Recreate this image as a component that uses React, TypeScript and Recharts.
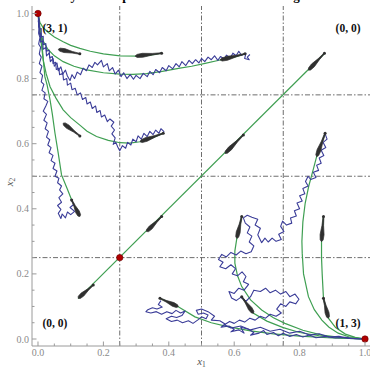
import { ComposedChart, Line, XAxis, YAxis, ReferenceLine, Scatter } from "recharts"

type Pt = { x: number; y: number }
const pts = (a: number[][]): Pt[] => a.map(([x, y]) => ({ x, y }))

// frame ticks (every 0.05) and the labelled ones
const frameTicks = [0, 0.05, 0.1, 0.15, 0.2, 0.25, 0.3, 0.35, 0.4, 0.45, 0.5, 0.55, 0.6, 0.65, 0.7, 0.75, 0.8, 0.85, 0.9, 0.95, 1]
const labelTicks = [0, 0.2, 0.4, 0.6, 0.8, 1]
const gridAt = [0.25, 0.5, 0.75]

// rest points
const eqX = [0, 0.25, 1]
const eqY = [1, 0.25, 0]

// payoff labels
const cornerText = ["(3, 1)", "(0, 0)", "(0, 0)", "(1, 3)"]
const cornerX = [0.052, 0.948, 0.052, 0.948]
const cornerY = [0.956, 0.956, 0.048, 0.048]

// deterministic trajectories
const curveA = [[0.378, 0.878], [0.34, 0.871], [0.312, 0.869], [0.251, 0.87], [0.2, 0.876], [0.16, 0.884], [0.128, 0.893], [0.1, 0.902], [0.077, 0.913], [0.05, 0.928], [0.03, 0.943], [0.016, 0.956], [0.006, 0.972], [0, 1]]
const curveB = [[0.633, 0.876], [0.6, 0.866], [0.557, 0.857], [0.511, 0.847], [0.47, 0.838], [0.434, 0.832], [0.38, 0.822], [0.332, 0.815], [0.29, 0.813], [0.251, 0.814], [0.2, 0.818], [0.149, 0.827], [0.11, 0.838], [0.077, 0.852], [0.05, 0.87], [0.03, 0.89], [0.016, 0.915], [0.006, 0.945], [0, 1]]
const curveC = [[0.383, 0.632], [0.35, 0.618], [0.312, 0.606], [0.28, 0.602], [0.251, 0.603], [0.215, 0.61], [0.179, 0.622], [0.15, 0.638], [0.128, 0.657], [0.1, 0.68], [0.077, 0.704], [0.055, 0.74], [0.037, 0.775], [0.025, 0.815], [0.016, 0.857], [0.011, 0.9], [0.006, 0.94], [0, 1]]
const curveD = [[0.103, 0.427], [0.09, 0.46], [0.072, 0.504], [0.062, 0.57], [0.052, 0.632], [0.044, 0.69], [0.037, 0.734], [0.028, 0.78], [0.021, 0.806], [0.016, 0.86], [0.011, 0.92], [0, 1]]
const curveDiag = [[0.123, 0.124], [0.876, 0.877]]
const curveF = [[0.373, 0.125], [0.429, 0.099], [0.48, 0.068], [0.53, 0.05], [0.58, 0.038], [0.65, 0.025], [0.72, 0.016], [0.8, 0.009], [0.9, 0.003], [1, 0]]
const curveG = [[0.878, 0.632], [0.852, 0.56], [0.842, 0.522], [0.828, 0.47], [0.817, 0.417], [0.81, 0.36], [0.807, 0.3], [0.808, 0.263], [0.812, 0.2], [0.827, 0.13], [0.845, 0.09], [0.868, 0.058], [0.89, 0.036], [0.918, 0.018], [0.95, 0.007], [1, 0]]
const curveH = [[0.623, 0.376], [0.608, 0.309], [0.602, 0.27], [0.602, 0.233], [0.61, 0.195], [0.623, 0.161], [0.65, 0.12], [0.684, 0.089], [0.72, 0.065], [0.755, 0.048], [0.81, 0.027], [0.868, 0.012], [0.93, 0.004], [1, 0]]
const curveI = [[0.623, 0.13], [0.659, 0.079], [0.7, 0.055], [0.75, 0.035], [0.8, 0.02], [0.86, 0.01], [0.93, 0.003], [1, 0]]
const curveJ = [[0.873, 0.376], [0.867, 0.299], [0.867, 0.25], [0.869, 0.2], [0.873, 0.125], [0.888, 0.064], [0.91, 0.035], [0.94, 0.015], [0.97, 0.005], [1, 0]]
const curves = [curveA, curveB, curveC, curveD, curveDiag, curveF, curveG, curveH, curveI, curveJ]

// arrows: [thin end, thick end]
const arrows = [
  [[0.169, 0.166], [0.123, 0.125]],
  [[0.378, 0.376], [0.332, 0.33]],
  [[0.628, 0.627], [0.572, 0.57]],
  [[0.876, 0.878], [0.827, 0.826]],
  [[0.128, 0.876], [0.062, 0.89]],
  [[0.378, 0.878], [0.297, 0.869]],
  [[0.633, 0.876], [0.557, 0.857]],
  [[0.128, 0.624], [0.077, 0.663]],
  [[0.383, 0.632], [0.312, 0.606]],
  [[0.103, 0.427], [0.128, 0.376]],
  [[0.373, 0.125], [0.429, 0.099]],
  [[0.878, 0.632], [0.852, 0.56]],
  [[0.623, 0.376], [0.608, 0.309]],
  [[0.623, 0.13], [0.659, 0.079]],
  [[0.873, 0.376], [0.867, 0.299]],
  [[0.873, 0.125], [0.888, 0.064]],
]

// simulated sample paths
const path1 = [[0.648, 0.874], [0.64, 0.866], [0.646, 0.858], [0.632, 0.862], [0.636, 0.878], [0.622, 0.872], [0.614, 0.884], [0.606, 0.87], [0.596, 0.878], [0.588, 0.864], [0.576, 0.872], [0.57, 0.86], [0.558, 0.868], [0.55, 0.856], [0.54, 0.87], [0.53, 0.858], [0.52, 0.866], [0.51, 0.852], [0.5, 0.862], [0.492, 0.848], [0.482, 0.858], [0.472, 0.846], [0.462, 0.856], [0.452, 0.84], [0.44, 0.852], [0.432, 0.836], [0.422, 0.846], [0.412, 0.83], [0.4, 0.84], [0.392, 0.824], [0.38, 0.834], [0.372, 0.818], [0.36, 0.828], [0.352, 0.812], [0.342, 0.822], [0.334, 0.806], [0.322, 0.816], [0.312, 0.8], [0.3, 0.81], [0.292, 0.798], [0.282, 0.812], [0.272, 0.8], [0.262, 0.818], [0.254, 0.806], [0.246, 0.826], [0.236, 0.814], [0.228, 0.834], [0.218, 0.824], [0.212, 0.846], [0.2, 0.836], [0.194, 0.856], [0.182, 0.842], [0.174, 0.85], [0.166, 0.834], [0.156, 0.842], [0.148, 0.824], [0.138, 0.832], [0.13, 0.812], [0.12, 0.82], [0.112, 0.8], [0.104, 0.812], [0.098, 0.794], [0.09, 0.808], [0.084, 0.826], [0.076, 0.814], [0.07, 0.836], [0.062, 0.824], [0.058, 0.848], [0.05, 0.838], [0.046, 0.862], [0.038, 0.852], [0.034, 0.878], [0.026, 0.87], [0.024, 0.896], [0.016, 0.89], [0.014, 0.916], [0.008, 0.912], [0.008, 0.94], [0.004, 0.936], [0.004, 0.962], [0.002, 0.958], [0.002, 0.985], [0, 1]]
const path2 = [[0.386, 0.636], [0.376, 0.646], [0.37, 0.632], [0.36, 0.642], [0.352, 0.628], [0.342, 0.638], [0.334, 0.622], [0.324, 0.632], [0.316, 0.614], [0.306, 0.624], [0.3, 0.606], [0.29, 0.614], [0.284, 0.596], [0.274, 0.604], [0.268, 0.586], [0.258, 0.594], [0.25, 0.578], [0.244, 0.59], [0.238, 0.604], [0.23, 0.598], [0.236, 0.618], [0.226, 0.63], [0.234, 0.642], [0.224, 0.654], [0.232, 0.666], [0.22, 0.676], [0.212, 0.668], [0.204, 0.688], [0.194, 0.682], [0.19, 0.702], [0.18, 0.696], [0.176, 0.716], [0.166, 0.708], [0.16, 0.728], [0.15, 0.722], [0.146, 0.742], [0.136, 0.736], [0.13, 0.756], [0.12, 0.75], [0.114, 0.77], [0.104, 0.766], [0.1, 0.786], [0.09, 0.78], [0.088, 0.8], [0.078, 0.796], [0.076, 0.816], [0.066, 0.812], [0.064, 0.832], [0.056, 0.828], [0.054, 0.85], [0.046, 0.846], [0.044, 0.868], [0.036, 0.864], [0.034, 0.888], [0.026, 0.884], [0.024, 0.908], [0.016, 0.904], [0.016, 0.93], [0.01, 0.928], [0.01, 0.954], [0.004, 0.952], [0.004, 0.978], [0, 1]]
const path3 = [[0.1, 0.43], [0.11, 0.414], [0.098, 0.404], [0.112, 0.392], [0.1, 0.382], [0.09, 0.39], [0.084, 0.372], [0.074, 0.384], [0.07, 0.37], [0.062, 0.386], [0.07, 0.398], [0.06, 0.41], [0.072, 0.42], [0.064, 0.434], [0.076, 0.446], [0.066, 0.458], [0.072, 0.47], [0.06, 0.48], [0.064, 0.494], [0.052, 0.5], [0.058, 0.516], [0.046, 0.524], [0.052, 0.54], [0.04, 0.548], [0.046, 0.564], [0.034, 0.572], [0.04, 0.588], [0.03, 0.596], [0.036, 0.612], [0.026, 0.62], [0.032, 0.638], [0.022, 0.646], [0.028, 0.664], [0.018, 0.672], [0.026, 0.69], [0.016, 0.7], [0.024, 0.716], [0.03, 0.73], [0.018, 0.738], [0.022, 0.756], [0.012, 0.764], [0.018, 0.782], [0.01, 0.79], [0.014, 0.81], [0.006, 0.818], [0.012, 0.838], [0.004, 0.846], [0.01, 0.866], [0.004, 0.876], [0.008, 0.896], [0.002, 0.906], [0.006, 0.926], [0.002, 0.94], [0.004, 0.96], [0.001, 0.975], [0.002, 0.99], [0, 1]]
const path4 = [[0.376, 0.118], [0.368, 0.106], [0.38, 0.098], [0.364, 0.092], [0.35, 0.096], [0.336, 0.09], [0.33, 0.084], [0.345, 0.08], [0.362, 0.084], [0.378, 0.076], [0.394, 0.084], [0.41, 0.078], [0.422, 0.088], [0.436, 0.08], [0.45, 0.086], [0.44, 0.072], [0.424, 0.066], [0.408, 0.07], [0.392, 0.062], [0.408, 0.054], [0.426, 0.058], [0.442, 0.05], [0.46, 0.056], [0.474, 0.048], [0.488, 0.058], [0.5, 0.068], [0.514, 0.062], [0.52, 0.074], [0.506, 0.08], [0.49, 0.076], [0.484, 0.088], [0.5, 0.092], [0.52, 0.084], [0.54, 0.07], [0.53, 0.058], [0.556, 0.056], [0.572, 0.046], [0.56, 0.036], [0.584, 0.04], [0.6, 0.03], [0.59, 0.022], [0.614, 0.028], [0.63, 0.018], [0.62, 0.036], [0.644, 0.03], [0.66, 0.02], [0.65, 0.012], [0.676, 0.018], [0.69, 0.026], [0.7, 0.014], [0.72, 0.02], [0.735, 0.01], [0.75, 0.018], [0.77, 0.008], [0.79, 0.014], [0.81, 0.006], [0.83, 0.012], [0.85, 0.004], [0.88, 0.008], [0.91, 0.003], [0.94, 0.005], [0.97, 0.001], [1, 0]]
const path5 = [[0.878, 0.63], [0.884, 0.614], [0.872, 0.604], [0.88, 0.588], [0.866, 0.58], [0.874, 0.564], [0.86, 0.556], [0.866, 0.54], [0.852, 0.534], [0.858, 0.518], [0.842, 0.512], [0.85, 0.496], [0.834, 0.49], [0.826, 0.5], [0.818, 0.484], [0.826, 0.47], [0.81, 0.462], [0.816, 0.446], [0.8, 0.44], [0.808, 0.424], [0.792, 0.418], [0.8, 0.4], [0.784, 0.394], [0.79, 0.378], [0.772, 0.372], [0.776, 0.356], [0.76, 0.35], [0.748, 0.362], [0.742, 0.346], [0.752, 0.33], [0.736, 0.322], [0.744, 0.306], [0.728, 0.3], [0.716, 0.31], [0.704, 0.298], [0.694, 0.31], [0.684, 0.296], [0.672, 0.32], [0.68, 0.34], [0.664, 0.35], [0.672, 0.368], [0.654, 0.374], [0.64, 0.38], [0.628, 0.372], [0.634, 0.356], [0.648, 0.344], [0.64, 0.326], [0.654, 0.316], [0.646, 0.298], [0.66, 0.286], [0.652, 0.268], [0.636, 0.262], [0.62, 0.27], [0.606, 0.258], [0.59, 0.266], [0.576, 0.252], [0.562, 0.26], [0.552, 0.244], [0.566, 0.236], [0.556, 0.222], [0.574, 0.216], [0.59, 0.228], [0.604, 0.216], [0.594, 0.2], [0.61, 0.194], [0.624, 0.206], [0.636, 0.192], [0.628, 0.176], [0.644, 0.168], [0.63, 0.15], [0.614, 0.156], [0.6, 0.14], [0.584, 0.146], [0.592, 0.126], [0.606, 0.118], [0.62, 0.128], [0.636, 0.116], [0.65, 0.13], [0.66, 0.15], [0.68, 0.146], [0.696, 0.156], [0.71, 0.142], [0.726, 0.15], [0.742, 0.138], [0.758, 0.146], [0.77, 0.13], [0.786, 0.138], [0.798, 0.122], [0.788, 0.108], [0.77, 0.114], [0.758, 0.1], [0.742, 0.108], [0.73, 0.092], [0.744, 0.08], [0.728, 0.07], [0.71, 0.076], [0.696, 0.064], [0.68, 0.07], [0.664, 0.058], [0.648, 0.064], [0.632, 0.052], [0.616, 0.058], [0.6, 0.048], [0.586, 0.054], [0.57, 0.044], [0.59, 0.034], [0.62, 0.04], [0.65, 0.028], [0.68, 0.036], [0.71, 0.024], [0.74, 0.03], [0.77, 0.018], [0.8, 0.024], [0.83, 0.012], [0.86, 0.016], [0.89, 0.006], [0.92, 0.008], [0.95, 0.002], [1, 0]]
const paths = [path1, path2, path3, path4, path5]

const AXIS = "#9a9a9a"
const TICKTXT = "#8a8a8a"
const SERIF = "'Liberation Serif', 'DejaVu Serif', serif"
const isLabelled = (v: number) => labelTicks.some((t) => Math.abs(t - v) < 1e-6)

function BottomTick(props: any) {
  const { x, y, payload } = props
  const v = payload.value as number
  const big = isLabelled(v)
  return (
    <g>
      <line x1={x} x2={x} y1={y} y2={y - (big ? 4.5 : 2.5)} stroke={AXIS} />
      {big && <text x={x} y={y + 9.5} textAnchor="middle" fontSize={10} fill={TICKTXT} fontFamily={SERIF}>{v.toFixed(1)}</text>}
    </g>
  )
}
function TopTick(props: any) {
  const { x, y, payload } = props
  const big = isLabelled(payload.value)
  return <line x1={x} x2={x} y1={y} y2={y + (big ? 4.5 : 2.5)} stroke={AXIS} />
}
function LeftTick(props: any) {
  const { x, y, payload } = props
  const v = payload.value as number
  const big = isLabelled(v)
  return (
    <g>
      <line x1={x} x2={x + (big ? 4.5 : 2.5)} y1={y} y2={y} stroke={AXIS} />
      {big && <text x={x - 3} y={y + 3.5} textAnchor="end" fontSize={10} fill={TICKTXT} fontFamily={SERIF}>{v.toFixed(1)}</text>}
    </g>
  )
}
function RightTick(props: any) {
  const { x, y, payload } = props
  const big = isLabelled(payload.value)
  return <line x1={x} x2={x - (big ? 4.5 : 2.5)} y1={y} y2={y} stroke={AXIS} />
}

function ArrowDot(props: any) {
  const { index, points } = props
  if (index !== 0 || !points || points.length < 2) return <g key={props.key} />
  const t = points[0], k = points[1]
  const dx = k.x - t.x, dy = k.y - t.y
  const L = Math.hypot(dx, dy) || 1
  const ux = dx / L, uy = dy / L, nx = -uy, ny = ux
  const at = (f: number, w: number) => `${t.x + ux * L * f + nx * w},${t.y + uy * L * f + ny * w}`
  const poly = [at(0, 0.45), at(0.35, 0.8), at(0.72, 2.0), at(0.93, 1.5), at(1, 0), at(0.93, -1.5), at(0.72, -2.0), at(0.35, -0.8), at(0, -0.45)].join(" ")
  return (
    <g key={props.key}>
      <polygon points={poly} fill="#2f2f2f" stroke="#2f2f2f" strokeWidth={0.7} strokeLinejoin="round" />
      <circle cx={t.x} cy={t.y} r={1.5} fill="#2f2f2f" />
    </g>
  )
}

const eqData = eqX.map((x, i) => ({ x, y: eqY[i] }))
const cornerData = cornerX.map((x, i) => ({ x, y: cornerY[i], text: cornerText[i] }))

export default function App() {
  return (
    <div style={{ position: "absolute", left: 0, top: 0, width: 370, height: 370, overflow: "hidden", background: "#fff" }}>
      <svg width={370} height={12} style={{ position: "absolute", left: 0, top: 0 }}>
        <text x={46} y={0} fontSize={13} fontWeight="bold" fontFamily={SERIF} fill="#000">
          Noisy best response drives out interior mixing
        </text>
      </svg>
      <ComposedChart width={380} height={370} margin={{ top: 6, right: 9, bottom: 0, left: 0 }}>
        <XAxis type="number" dataKey="x" domain={[-0.0183, 1.0183]} allowDataOverflow ticks={frameTicks} interval={0}
          height={24} tickSize={0} tickMargin={0} tickLine={false} stroke={AXIS} tick={<BottomTick />}
          label={{
            content: (p: any) => {
              const vb = p.viewBox
              return (
                <text x={vb.x + vb.width / 2} y={365} textAnchor="middle" fontSize={11} fontFamily={SERIF} fill="#555">
                  <tspan fontStyle="italic">x</tspan><tspan fontSize={7.5} dy={2}>1</tspan>
                </text>
              )
            },
          }} />
        <XAxis xAxisId="top" orientation="top" type="number" dataKey="x" domain={[-0.0183, 1.0183]} allowDataOverflow
          ticks={frameTicks} interval={0} height={0} tickSize={0} tickMargin={0} tickLine={false} stroke={AXIS} tick={<TopTick />} />
        <YAxis type="number" dataKey="y" domain={[-0.0215, 1.023]} allowDataOverflow ticks={frameTicks} interval={0}
          width={32} tickSize={0} tickMargin={0} tickLine={false} stroke={AXIS} tick={<LeftTick />}
          label={{
            content: (p: any) => {
              const vb = p.viewBox
              const cy = vb.y + vb.height / 2 + 6
              return (
                <text x={13} y={cy} transform={`rotate(-90 13 ${cy})`} textAnchor="middle" fontSize={11} fontFamily={SERIF} fill="#555">
                  <tspan fontStyle="italic">x</tspan><tspan fontSize={7.5} dy={2}>2</tspan>
                </text>
              )
            },
          }} />
        <YAxis yAxisId="right" orientation="right" type="number" dataKey="y" domain={[-0.0215, 1.023]} allowDataOverflow
          ticks={frameTicks} interval={0} width={0} tickSize={0} tickMargin={0} tickLine={false} stroke={AXIS} tick={<RightTick />} />

        {gridAt.map((v) => (
          <ReferenceLine key={`vx${v}`} x={v} stroke="#6e6e6e" strokeDasharray="5 2 1.5 2" />
        ))}
        {gridAt.map((v) => (
          <ReferenceLine key={`hy${v}`} y={v} stroke="#6e6e6e" strokeDasharray="5 2 1.5 2" />
        ))}

        {curves.map((c, i) => (
          <Line key={`c${i}`} data={pts(c)} dataKey="y" type="linear" stroke="#3f9f52" strokeWidth={1.2}
            dot={false} activeDot={false} isAnimationActive={false} />
        ))}
        {paths.map((c, i) => (
          <Line key={`p${i}`} data={pts(c)} dataKey="y" type="linear" stroke="#3a3c98" strokeWidth={1.1}
            strokeLinejoin="round" dot={false} activeDot={false} isAnimationActive={false} />
        ))}
        {arrows.map((a, i) => (
          <Line key={`a${i}`} data={pts(a)} dataKey="y" stroke="none" dot={ArrowDot} activeDot={false}
            isAnimationActive={false} />
        ))}

        <Scatter data={eqData} dataKey="y" isAnimationActive={false}
          shape={(p: any) => <circle cx={p.cx} cy={p.cy} r={3.2} fill="#b00000" stroke="#6a0000" strokeWidth={0.6} />} />
        <Scatter data={cornerData} dataKey="y" isAnimationActive={false}
          shape={(p: any) => (
            <text x={p.cx} y={p.cy + 4} textAnchor="middle" fontSize={11.5} fontWeight="bold" fontFamily={SERIF} fill="#111">
              {p.payload.text}
            </text>
          )} />
      </ComposedChart>
    </div>
  )
}
